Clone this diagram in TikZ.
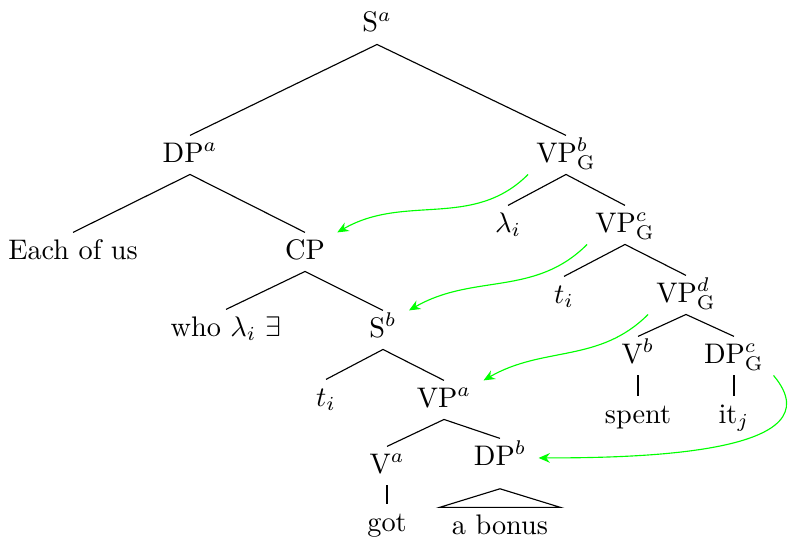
\documentclass[tikz,border=0pt]{standalone}
\usepackage{xcolor}
\usepackage{tikz}
\usetikzlibrary{arrows.meta}
\definecolor{moveGreen}{HTML}{00FF00}
\tikzset{
  treenode/.style={anchor=base, inner sep=4.2pt, text height=5pt, text depth=0pt},
  branch/.style={draw=black, line width=0.4pt},
  movearrow/.style={-{Stealth[length=1.4mm, width=1.2mm]}, draw=moveGreen, line width=0.4pt}
}
\begin{document}
\begin{tikzpicture}[x=0.3534pt, y=0.3534pt]
    \useasboundingbox (0,0) rectangle (792,-540);

    % top levels
    \node[treenode] (Sa) at (377,-32) {S$^a$};
    \node[treenode] (DPa) at (190,-162) {DP$^a$};
    \node[treenode] (VPbG) at (566,-162) {VP$^b_{\mathrm{G}}$};
    \node[treenode] (each) at (73,-259) {Each of us};
    \node[treenode] (CP) at (305,-259) {CP};
    \node[treenode] (lami) at (508,-232) {$\lambda_i$};
    \node[treenode] (VPcG) at (625,-232) {VP$^c_{\mathrm{G}}$};

    % relative clause
    \node[treenode] (who) at (226,-336) {who $\lambda_i$ $\exists$};
    \node[treenode] (Sb) at (383,-337) {S$^b$};
    \node[treenode] (tiL) at (326,-406) {$t_i$};
    \node[treenode] (VPa) at (444,-407) {VP$^a$};
    \node[treenode] (Va) at (387,-473) {V$^a$};
    \node[treenode] (DPb) at (500,-465) {DP$^b$};
    \node[treenode] (got) at (387,-531) {got};
    \node[treenode] (bonus) at (500,-534) {a bonus};

    % matrix VP
    \node[treenode] (tiR) at (564,-303) {$t_i$};
    \node[treenode] (VPdG) at (686,-302) {VP$^d_{\mathrm{G}}$};
    \node[treenode] (Vb) at (638,-363) {V$^b$};
    \node[treenode] (DPcG) at (734,-363) {DP$^c_{\mathrm{G}}$};
    \node[treenode] (spent) at (638,-423) {spent};
    \node[treenode] (itj) at (734,-423) {it$_j$};

    % branches
    \draw[branch] (Sa.south) -- (DPa.north);
    \draw[branch] (Sa.south) -- (VPbG.north);
    \draw[branch] (DPa.south) -- (each.north);
    \draw[branch] (DPa.south) -- (CP.north);
    \draw[branch] (VPbG.south) -- (lami.north);
    \draw[branch] (VPbG.south) -- (VPcG.north);
    \draw[branch] (CP.south) -- (who.north);
    \draw[branch] (CP.south) -- (Sb.north);
    \draw[branch] (Sb.south) -- (tiL.north);
    \draw[branch] (Sb.south) -- (VPa.north);
    \draw[branch] (VPa.south) -- (Va.north);
    \draw[branch] (VPa.south) -- (DPb.north);
    \draw[branch] (Va.south) -- (got.north);
    \draw[branch] ([yshift=-4pt]DPb.south) -- (bonus.north east) -- (bonus.north west) -- cycle;
    \draw[branch] (VPcG.south) -- (tiR.north);
    \draw[branch] (VPcG.south) -- (VPdG.north);
    \draw[branch] (VPdG.south) -- (Vb.north);
    \draw[branch] (VPdG.south) -- (DPcG.north);
    \draw[branch] (Vb.south) -- (spent.north);
    \draw[branch] (DPcG.south) -- (itj.north);

    % movement arrows
    \draw[movearrow] ([xshift=1.5pt]VPbG.south west) to[out=225, in=30] (CP.north east);
    \draw[movearrow] ([xshift=1.5pt]VPcG.south west) to[out=225, in=30] (Sb.north east);
    \draw[movearrow] ([xshift=1.5pt]VPdG.south west) to[out=225, in=30] (VPa.north east);
    \draw[movearrow] ([xshift=-1pt]DPcG.south east) to[out=-50, in=0, looseness=1.05] (DPb.east);
\end{tikzpicture}
\end{document}
